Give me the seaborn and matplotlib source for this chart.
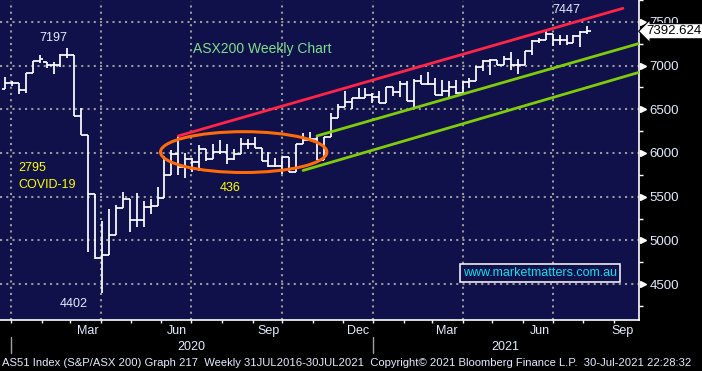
#!/usr/bin/env python3
"""
ASX200 weekly bar chart with drawn channel lines (Bloomberg style)
"""

import numpy as np
import pandas as pd
import matplotlib
matplotlib.use("Agg")
import matplotlib.pyplot as plt
import matplotlib.transforms as mtransforms
from matplotlib.patches import Ellipse
import seaborn as sns

# Weekly bars, dated by week ending Friday
week_ending = pd.date_range("2019-12-20", "2021-07-30", freq="W-FRI")

opens = [6730, 6802, 6802, 6715, 6916, 7049, 7038, 7011, 7011, 7125,
         7125, 6423, 6203, 5531, 4802, 4836, 5056, 5371, 5474, 5235,
         5235, 5378, 5394, 5485, 5751, 5986, 5842, 5929, 5891, 6043,
         5930, 6016, 6016, 5929, 5986, 6100, 6100, 6061, 5910, 5850,
         5850, 5956, 5785, 6100, 6149, 6157, 5918, 6183, 6396, 6528,
         6585, 6624, 6624, 6662, 6639, 6574, 6753, 6699, 6784, 6593,
         6829, 6790, 6784, 6662, 6707, 6753, 6688, 6813, 6829, 6984,
         7049, 7060, 7011, 7080, 7011, 7011, 7171, 7285, 7296, 7364,
         7296, 7296, 7257, 7342, 7383]
highs = [6867, 6821, 6802, 6916, 7057, 7125, 7038, 7038, 7132, 7197,
         7125, 6514, 6203, 5531, 5227, 5360, 5405, 5557, 5474, 5542,
         5454, 5474, 5606, 5967, 6032, 6195, 5998, 5948, 6092, 6043,
         6100, 6146, 6100, 6043, 6175, 6157, 6183, 6061, 6016, 5941,
         5956, 5956, 6100, 6232, 6240, 6195, 6183, 6460, 6556, 6707,
         6631, 6738, 6745, 6688, 6707, 6753, 6753, 6821, 6821, 6841,
         6897, 6927, 6852, 6830, 6829, 6833, 6829, 6859, 6992, 7068,
         7080, 7068, 7106, 7155, 7080, 7171, 7296, 7314, 7391, 7364,
         7353, 7353, 7353, 7391, 7447]
lows = [6727, 6764, 6670, 6690, 6916, 7030, 6973, 6904, 6981, 7087,
        6423, 6203, 4866, 4790, 4402, 4836, 5056, 5371, 5093, 5158,
        5158, 5303, 5394, 5485, 5751, 5751, 5713, 5777, 5796, 5910,
        5930, 5993, 5872, 5918, 5986, 6043, 6061, 5910, 5842, 5842,
        5759, 5785, 5785, 6100, 6149, 5918, 5918, 6183, 6396, 6528,
        6499, 6624, 6624, 6574, 6574, 6574, 6650, 6639, 6593, 6517,
        6790, 6776, 6662, 6655, 6639, 6670, 6677, 6738, 6821, 6935,
        6897, 7003, 7011, 6954, 6904, 7011, 7125, 7257, 7296, 7220,
        7239, 7239, 7257, 7208, 7364]
closes = [6802, 6802, 6715, 6916, 7049, 7080, 7011, 7011, 7125, 7125,
          6423, 6203, 5531, 4802, 4836, 5056, 5371, 5474, 5235, 5235,
          5378, 5394, 5485, 5751, 5986, 5842, 5929, 5891, 6043, 5930,
          6016, 6016, 5929, 5986, 6100, 6100, 6061, 5910, 5850, 5850,
          5956, 5785, 6100, 6149, 6157, 5918, 6183, 6396, 6528, 6585,
          6624, 6624, 6662, 6639, 6574, 6753, 6699, 6784, 6593, 6829,
          6790, 6784, 6662, 6707, 6753, 6688, 6813, 6829, 6984, 7049,
          7060, 7011, 7080, 7011, 7011, 7171, 7285, 7296, 7364, 7296,
          7296, 7257, 7342, 7383, 7392.624]

# Hand drawn channel (bar dates / prices)
red_dates = ["2020-06-12", "2021-09-04"]
red_prices = [6195, 7655]
upper_green_dates = ["2020-10-30", "2021-09-21"]
upper_green_prices = [6195, 7255]
lower_green_dates = ["2020-10-16", "2021-09-21"]
lower_green_prices = [5800, 6925]

# Consolidation ellipse: centre date, centre price, width (days), height (points)
ellipse_centre = ("2020-08-17", 6010)
ellipse_size = (168, 467)

y_ticks = [4500, 5000, 5500, 6000, 6500, 7000, 7500]
y_minor = [4250, 4750, 5250, 5750, 6250, 6750, 7250, 7750]
quarter_lines = ["2020-01-01", "2020-04-01", "2020-07-01", "2020-10-01",
                 "2021-01-01", "2021-04-01", "2021-07-01"]
month_label_dates = ["2020-03-19", "2020-06-17", "2020-09-17", "2020-12-16",
                     "2021-03-16", "2021-06-18", "2021-09-10"]
month_labels = ["Mar", "Jun", "Sep", "Dec", "Mar", "Jun", "Sep"]
year_labels = ["2020", "2021"]
year_label_dates = ["2020-07-01", "2021-05-14"]
year_breaks = ["2020-01-01", "2021-01-01"]
last_price = 7392.624

footer = ("AS51 Index (S&P/ASX 200) Graph 217  Weekly 31JUL2016-30JUL2021  "
          "Copyright\u00a9 2021 Bloomberg Finance L.P.  30-Jul-2021 22:28:32")

NAVY = "#10104a"
WHITE = "#ffffff"
LABEL = "#e4ecff"
GRID = "#9a9a9a"
SHIFT = pd.Timedelta(days=6)   # bloomberg draws weekly bars a bit right of the Friday
X_LIM = (pd.Timestamp("2019-12-20 22:00"), pd.Timestamp("2021-09-26 05:00"))
Y_LIM = (4089, 7740)


def main():
    sns.set_theme(style="dark", rc={"axes.facecolor": NAVY,
                                    "figure.facecolor": "black",
                                    "savefig.facecolor": "black"})
    plt.rcParams["font.family"] = ["Liberation Sans", "DejaVu Sans"]

    fig = plt.figure(figsize=(7.02, 3.71), dpi=100)
    ax = fig.add_axes([0, 1 - 320 / 371, 639 / 702, 320 / 371])
    ax.set_facecolor(NAVY)

    x = week_ending + SHIFT
    half = pd.Timedelta(days=3.5)

    # channel lines
    lines = pd.DataFrame({
        "date": pd.to_datetime(red_dates + upper_green_dates + lower_green_dates) + SHIFT,
        "price": red_prices + upper_green_prices + lower_green_prices,
        "line": ["red"] * 2 + ["upper"] * 2 + ["lower"] * 2,
    })
    sns.lineplot(data=lines, x="date", y="price", hue="line", units="line",
                 estimator=None, palette={"red": "#ff2448", "upper": "#7fcc0a",
                                          "lower": "#7fcc0a"},
                 lw=2.0, legend=False, ax=ax, zorder=4)

    ax.set_xlim(*X_LIM)
    ax.set_ylim(*Y_LIM)
    ax.set_xlabel("")
    ax.set_ylabel("")

    # dotted gridlines (after seaborn, which was hiding them)
    for q in quarter_lines:
        ax.plot([pd.Timestamp(q)] * 2, list(Y_LIM), color=GRID, lw=1.5,
                ls=(0, (1.0, 2.0)), zorder=2)
    for yt in y_ticks:
        ax.plot(list(X_LIM), [yt, yt], color=GRID, lw=1.5,
                ls=(0, (1.0, 2.0)), zorder=2)

    # OHLC bars
    ax.vlines(x, lows, highs, color=WHITE, lw=1.25, zorder=3)
    ax.hlines(opens, x - half, x, color=WHITE, lw=1.25, zorder=3)
    ax.hlines(closes, x, x + half, color=WHITE, lw=1.25, zorder=3)

    centre = pd.Timestamp(ellipse_centre[0]) + SHIFT
    ell = Ellipse((matplotlib.dates.date2num(centre), ellipse_centre[1]),
                  width=ellipse_size[0], height=ellipse_size[1],
                  fill=False, ec="#ff6a0a", lw=2.2, zorder=5)
    ax.add_patch(ell)
    ax.set_xlim(*X_LIM)
    ax.set_ylim(*Y_LIM)

    # spines
    for side in ["top", "left"]:
        ax.spines[side].set_visible(False)
    for side in ["right", "bottom"]:
        ax.spines[side].set_visible(True)
        ax.spines[side].set_color(WHITE)
        ax.spines[side].set_linewidth(1.2)

    # x axis: monthly ticks, quarter labels
    month_starts = pd.date_range("2020-01-01", "2021-09-01", freq="MS")
    ax.set_xticks(month_starts)
    ax.set_xticklabels([""] * len(month_starts))
    ax.set_xticks(pd.to_datetime(month_label_dates), minor=True)
    ax.set_xticklabels(month_labels, minor=True)
    ax.tick_params(axis="x", which="major", direction="out", length=2.5,
                   width=1, color=WHITE, bottom=True)
    ax.tick_params(axis="x", which="minor", length=0, pad=3.5,
                   labelsize=9, labelcolor=LABEL, bottom=True)

    # y axis on the right
    ax.yaxis.tick_right()
    ax.set_yticks(y_ticks)
    ax.set_yticklabels([str(v) for v in y_ticks])
    ax.set_yticks(y_minor, minor=True)
    ax.tick_params(axis="y", which="major", length=0, pad=7.5,
                   labelsize=9.5, labelcolor=LABEL, right=True, left=False)
    ax.tick_params(axis="y", which="minor", direction="out", length=3,
                   width=1, color=WHITE, right=True, left=False)

    ytrans = mtransforms.blended_transform_factory(ax.transAxes, ax.transData)
    ax.plot(np.full(len(y_ticks), 1.006), y_ticks, ls="none", marker=">",
            ms=5, color=WHITE, transform=ytrans, clip_on=False, zorder=6)

    # last price tag (covers part of the 7500 label, as in the original)
    ax.text(1.012, last_price, f"{last_price:.3f}", transform=ytrans,
            ha="left", va="center", fontsize=9.5, color="black", zorder=8,
            clip_on=False,
            bbox=dict(boxstyle="larrow,pad=0.12", fc="white", ec="black", lw=0.8))

    # year row
    xtrans = mtransforms.blended_transform_factory(ax.transData, ax.transAxes)
    for d, lab in zip(year_label_dates, year_labels):
        ax.text(pd.Timestamp(d), -0.083, lab, transform=xtrans, ha="center",
                va="center", fontsize=9, color=LABEL, clip_on=False)
    for d in year_breaks:
        ax.plot([pd.Timestamp(d)] * 2, [-0.053, -0.103], color="#a0a0a0",
                lw=1, transform=xtrans, clip_on=False)

    # annotations
    ax.text(0.083, 0.880, "7197", transform=ax.transAxes, ha="center",
            va="center", fontsize=9, color=LABEL)
    ax.text(0.302, 0.847, "ASX200 Weekly Chart", transform=ax.transAxes,
            ha="left", va="center", fontsize=10, color="#7fe08a")
    ax.text(0.028, 0.475, "2795", transform=ax.transAxes, ha="left",
            va="center", fontsize=9, color="#ffff00")
    ax.text(0.028, 0.423, "COVID-19", transform=ax.transAxes, ha="left",
            va="center", fontsize=9, color="#ffff00")
    ax.text(0.344, 0.412, "436", transform=ax.transAxes, ha="left",
            va="center", fontsize=9, color="#ffff00")
    ax.text(0.116, 0.050, "4402", transform=ax.transAxes, ha="center",
            va="center", fontsize=9, color=LABEL)
    ax.text(0.887, 0.969, "7447", transform=ax.transAxes, ha="center",
            va="center", fontsize=9, color=LABEL)
    ax.text(0.845, 0.148, "www.marketmatters.com.au", transform=ax.transAxes,
            ha="center", va="center", fontsize=9, color="#10e0f0", zorder=7,
            bbox=dict(boxstyle="square,pad=0.25", fc=NAVY, ec=WHITE, lw=1.1))

    fig.text(0.003, 1 - 362.7 / 371, footer, ha="left", va="center",
             fontsize=8.1, color=LABEL)

    fig.savefig("out.png", dpi=100, facecolor="black")
    plt.close(fig)


if __name__ == "__main__":
    main()
